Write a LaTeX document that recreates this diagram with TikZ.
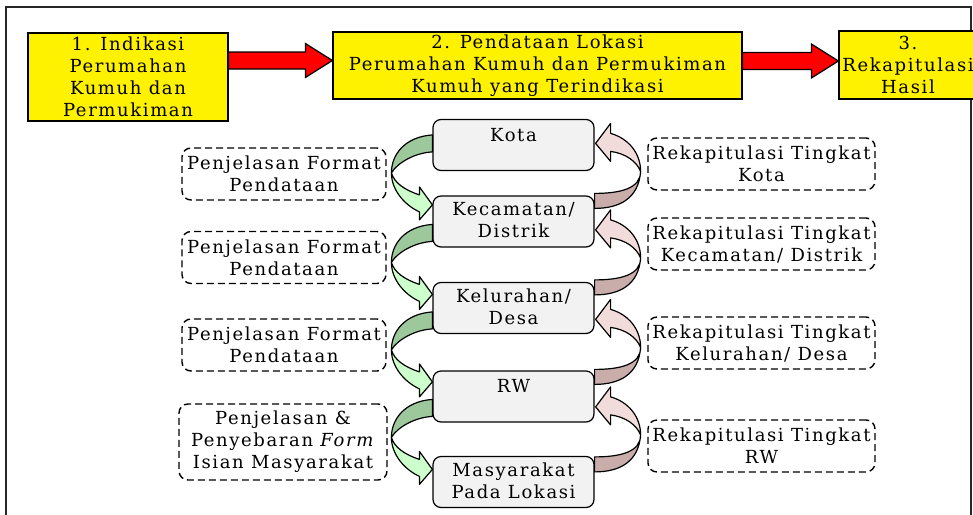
\documentclass[tikz,border=0pt]{standalone}
\usepackage{fontspec}
\setmainfont{DejaVu Serif}[LetterSpace=9]
\usetikzlibrary{calc}
\definecolor{dkgreen}{HTML}{9CC89C}
\definecolor{ltgreen}{HTML}{CCFFCC}
\definecolor{dkpink}{HTML}{C8ADAB}
\definecolor{ltpink}{HTML}{F2DCDB}
\definecolor{boxgray}{HTML}{F2F2F2}
\begin{document}
\begin{tikzpicture}[x=1pt,y=-1pt,
  txt/.style={font=\fontsize{18}{22}\selectfont, align=center, inner sep=0pt},
  ybox/.style={draw, line width=1.2pt, fill=yellow, txt},
  cbox/.style={draw, line width=1.2pt, fill=boxgray, rounded corners=8pt, minimum width=161pt, minimum height=51pt, inner sep=0pt},
  dbox/.style={draw, line width=1.4pt, dash pattern=on 7pt off 4pt, rounded corners=9pt, minimum width=204pt, minimum height=52pt, txt},
  rbox/.style={dbox, minimum width=227pt},
  barrow/.style={draw, line width=1.2pt, fill=red, line join=miter},
  curvline/.style={draw, line width=1.2pt, line join=round},
  greenarrow/.pic={
    \path[curvline, fill=dkgreen] (0,0) .. controls (-28,2) and (-41,20) .. (-41,38)
       .. controls (-35,28) and (-18,18) .. (0,17) -- cycle;
    \path[curvline, fill=ltgreen] (-41,38) .. controls (-41,55) and (-28,70) .. (-13,77)
       -- (-13,85) -- (0,70) -- (-13,52) -- (-13,60)
       .. controls (-28,55) and (-38,48) .. (-41,38) -- cycle;
  },
  pinkarrow/.pic={
    \path[curvline, fill=ltpink] (46,-22) .. controls (46,-40) and (34,-55) .. (16,-60)
       -- (16,-70) -- (1,-50) -- (16,-32) -- (16,-42)
       .. controls (31,-40) and (42,-32) .. (46,-22) -- cycle;
    \path[curvline, fill=dkpink] (46,-22) .. controls (46,-5) and (26,0) .. (0,0)
       -- (0,15) .. controls (25,15) and (44,5) .. (46,-22) -- cycle;
  }
]
\useasboundingbox (0,0) rectangle (973,514);
\draw[line width=1.1pt, draw=black!85] (6,7) rectangle (971,530);

% top process boxes
\node[ybox, minimum width=200pt, minimum height=88pt] (s1) at (128,77)
  {1. Indikasi\\Perumahan\\Kumuh dan\\Permukiman};
\node[ybox, minimum width=409pt, minimum height=67pt] (s2) at (537.5,65.5)
  {2. Pendataan Lokasi\\Perumahan Kumuh dan Permukiman\\Kumuh yang Terindikasi};
\node[ybox, minimum width=138pt, minimum height=68pt] (s3) at (908,65)
  {3.\\Rekapitulasi\\Hasil};

% block arrows
\coordinate (a1s) at (s1.east |- 0,60.5);
\coordinate (a1e) at (s2.west |- 0,60.5);
\coordinate (a2s) at (s2.east |- 0,61);
\coordinate (a2e) at (s3.west |- 0,61);
\path[barrow] ($(a1s)+(0,-8.5)$) -- ($(a1e)+(-27,-8.5)$) -- ($(a1e)+(-27,-17)$) -- (a1e)
  -- ($(a1e)+(-27,17)$) -- ($(a1e)+(-27,8.5)$) -- ($(a1s)+(0,8.5)$) -- cycle;
\path[barrow] ($(a2s)+(0,-8.5)$) -- ($(a2e)+(-27,-8.5)$) -- ($(a2e)+(-27,-17)$) -- (a2e)
  -- ($(a2e)+(-27,17)$) -- ($(a2e)+(-27,8.5)$) -- ($(a2s)+(0,8.5)$) -- cycle;

% centre column
\node[cbox] (kota) at (513.5,145) {};
\node[cbox] (kec) at (513.5,221.5) {};
\node[cbox] (kel) at (513.5,308) {};
\node[cbox] (rw) at (513.5,396.5) {};
\node[cbox] (mas) at (513.5,482) {};
\node[txt, anchor=north] (kotat) at ($(kota.north)+(0,9)$) {Kota};
\node[txt, anchor=north] (kect) at ($(kec.north)+(0,7)$) {Kecamatan/\\Distrik};
\node[txt, anchor=north] (kelt) at ($(kel.north)+(0,7)$) {Kelurahan/\\Desa};
\node[txt, anchor=north] (rwt) at ($(rw.north)+(0,9)$) {RW};
\node[txt, anchor=north] (mast) at ($(mas.north)+(0,7)$) {Masyarakat\\Pada Lokasi};

% left dashed boxes
\node[dbox] (l1) at (284,174) {Penjelasan Format\\Pendataan};
\node[dbox] (l2) at (284,257.5) {Penjelasan Format\\Pendataan};
\node[dbox] (l3) at (284,345) {Penjelasan Format\\Pendataan};
\node[dbox, minimum width=208pt, minimum height=76pt] (l4) at (283,442)
  {Penjelasan \&\\Penyebaran \emph{Form}\\Isian Masyarakat};

% right dashed boxes
\node[rbox] (r1) at (761.5,164) {Rekapitulasi Tingkat\\Kota};
\node[rbox] (r2) at (761.5,244) {Rekapitulasi Tingkat\\Kecamatan/ Distrik};
\node[rbox] (r3) at (761.5,343) {Rekapitulasi Tingkat\\Kelurahan/ Desa};
\node[rbox] (r4) at (761.5,446) {Rekapitulasi Tingkat\\RW};

% curved arrows down (green)
\pic at ($(kota.north west)+(0,16)$) {greenarrow};
\pic at ($(kec.north west)+(0,29)$) {greenarrow};
\pic at ($(kel.north west)+(0,30)$) {greenarrow};
\pic at ($(rw.north west)+(0,29)$) {greenarrow};

% curved arrows up (pink)
\pic at ($(kec.north east)+(0,-2)$) {pinkarrow};
\pic at ($(kel.north east)+(0,-2)$) {pinkarrow};
\pic at ($(rw.north east)+(0,-1)$) {pinkarrow};
\pic at ($(mas.north east)+(0,1)$) {pinkarrow};
\end{tikzpicture}
\end{document}
